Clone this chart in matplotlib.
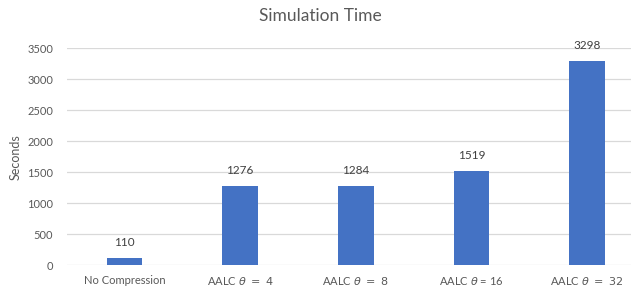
import matplotlib
matplotlib.use("Agg")
import matplotlib.pyplot as plt

plt.rcParams['font.family'] = ['Lato', 'DejaVu Sans']
plt.rcParams['mathtext.fontset'] = 'dejavusans'

categories = ["No Compression", r"AALC $\theta\ =\ 4$", r"AALC $\theta\ =\ 8$",
              r"AALC $\theta$ = 16", r"AALC $\theta\ =\ 32$"]
seconds = [110, 1276, 1284, 1519, 3298]
yticks = [0, 500, 1000, 1500, 2000, 2500, 3000, 3500]

bar_color = "#4472C4"
text_color = "#595959"
grid_color = "#D9D9D9"

fig = plt.figure(figsize=(6.4, 2.97), dpi=100)
ax = fig.add_axes([0.1047, 0.1077, 0.8813, 0.7297])

pos = list(range(len(categories)))
ax.bar(pos, seconds, width=0.31, color=bar_color, zorder=3)

for p, v in zip(pos, seconds):
    ax.annotate(str(v), (p, v), xytext=(0, 7), textcoords="offset points",
                ha="center", va="bottom", fontsize=8.5, color="#404040")

ax.set_xlim(-0.497, 4.38)
ax.set_ylim(0, 3500)
ax.set_yticks(yticks)
ax.set_xticks(pos)
ax.set_xticklabels(categories)
for i, lab in enumerate(ax.get_xticklabels()):
    lab.set_fontsize(8 if i in (0, 3) else 8.5)
ax.tick_params(axis="both", length=0, colors=text_color, labelsize=8)
ax.tick_params(axis="x", pad=7)
ax.tick_params(axis="y", pad=10)
ax.grid(axis="y", color=grid_color, linewidth=0.9, zorder=0)
for s in ax.spines.values():
    s.set_visible(False)

ax.set_ylabel("Seconds", fontsize=9, color=text_color, labelpad=4)
fig.text(0.5, 0.945, "Simulation Time", ha="center", va="center",
         fontsize=12.5, color=text_color)

fig.savefig("out.png", dpi=100)
